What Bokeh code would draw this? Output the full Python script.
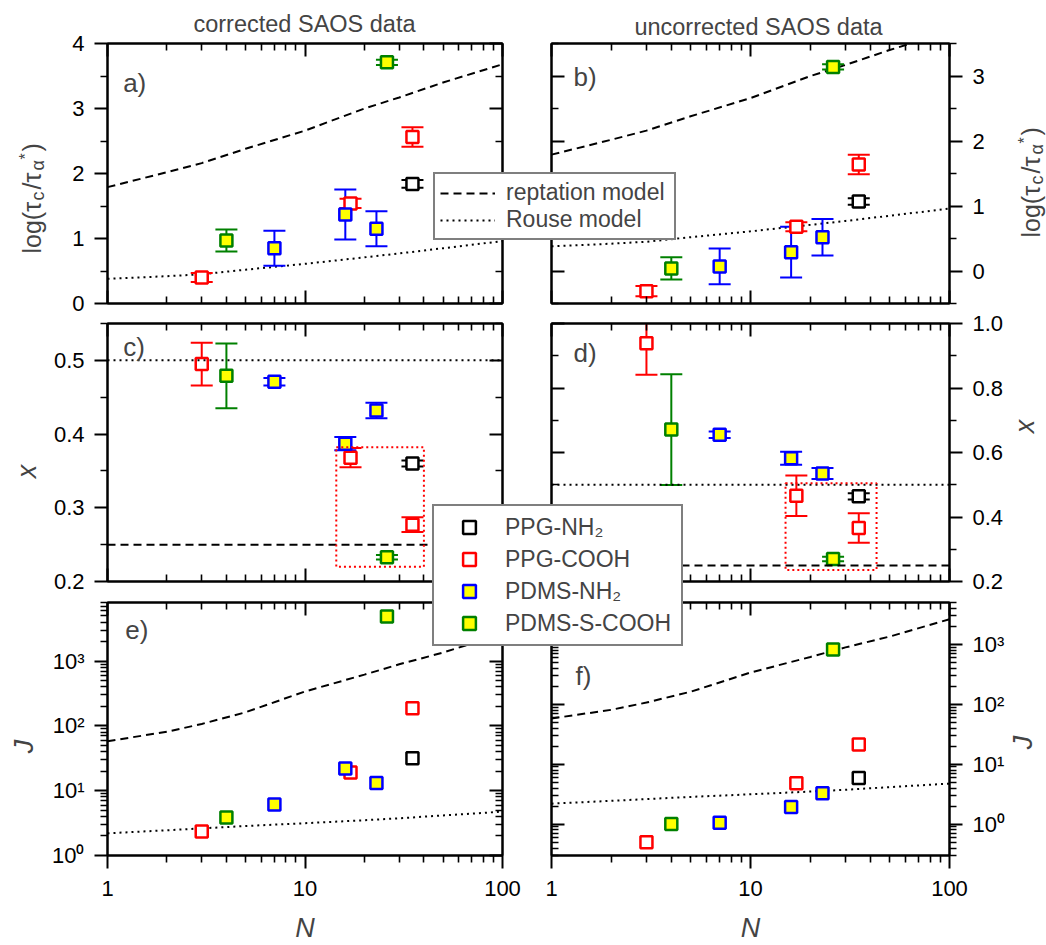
import math
from bokeh.plotting import figure
from bokeh.models import (Range1d, LinearAxis, LogAxis, FixedTicker, Span, BoxAnnotation,
                          Label, Legend, LegendItem, PrintfTickFormatter)
from bokeh.layouts import column, row
from bokeh.embed import file_html
from bokeh.resources import INLINE

FONT = "Liberation Sans"

# ---------------- data ----------------
series_names = ["PPG-NH₂", "PPG-COOH", "PDMS-NH₂", "PDMS-S-COOH"]
N_ppg_nh2 = [35]
N_ppg_cooh = [3, 17, 35]
N_pdms_nh2 = [7, 16, 23]
N_pdms_cooh = [4, 26]

# a) log(tau_c/tau_alpha*) corrected
a_ppg_nh2, a_ppg_nh2_err = [1.84], [0.06]
a_ppg_cooh, a_ppg_cooh_err = [0.40, 1.54, 2.56], [0.07, 0.07, 0.15]
a_pdms_nh2, a_pdms_nh2_err = [0.85, 1.37, 1.15], [0.27, 0.385, 0.27]
a_pdms_cooh, a_pdms_cooh_err = [0.97, 3.71], [0.17, 0.04]
# b) uncorrected
b_ppg_nh2, b_ppg_nh2_err = [1.07], [0.05]
b_ppg_cooh, b_ppg_cooh_err = [-0.31, 0.68, 1.64], [0.08, 0.07, 0.15]
b_pdms_nh2, b_pdms_nh2_err = [0.07, 0.29, 0.52], [0.275, 0.39, 0.28]
b_pdms_cooh, b_pdms_cooh_err = [0.04, 3.14], [0.17, 0.04]
# c) x corrected
c_ppg_nh2, c_ppg_nh2_err = [0.360], [0.004]
c_ppg_cooh, c_ppg_cooh_err = [0.495, 0.368, 0.277], [0.029, 0.013, 0.010]
c_pdms_nh2, c_pdms_nh2_err = [0.471, 0.387, 0.432], [0.005, 0.009, 0.0105]
c_pdms_cooh, c_pdms_cooh_err = [0.479, 0.233], [0.044, 0.003]
# d) x uncorrected
d_ppg_nh2, d_ppg_nh2_err = [0.464], [0.010]
d_ppg_cooh, d_ppg_cooh_err = [0.939, 0.466, 0.366], [0.098, 0.063, 0.046]
d_pdms_nh2, d_pdms_nh2_err = [0.655, 0.582, 0.535], [0.010, 0.020, 0.017]
d_pdms_cooh, d_pdms_cooh_err = [0.671, 0.270], [0.172, 0.007]
# e) J corrected
e_ppg_nh2 = [31.6]
e_ppg_cooh = [2.35, 19.1, 187]
e_pdms_nh2 = [6.1, 22.0, 13.1]
e_pdms_cooh = [3.85, 4850]
# f) J uncorrected
f_ppg_nh2 = [5.9]
f_ppg_cooh = [0.50, 4.8, 21.3]
f_pdms_nh2 = [1.06, 1.94, 3.28]
f_pdms_cooh = [1.01, 820]

# model curves
N_model = [1, 2, 3, 5, 10, 20, 30, 50, 100]
logtau_reptation = [1.79, 2.02, 2.16, 2.38, 2.66, 3.00, 3.17, 3.40, 3.68]
logtau_rouse = [0.38, 0.42, 0.45, 0.52, 0.61, 0.71, 0.77, 0.85, 0.96]
J_reptation = [58, 81, 107, 162, 339, 617, 891, 1350, 2630]
J_rouse = [2.2, 2.45, 2.62, 2.85, 3.15, 3.5, 3.75, 4.15, 4.75]
x_reptation = 0.25
x_rouse = 0.5
# dotted red boxes (N_left, N_right, x_bottom, x_top)
box_c = [14.4, 40, 0.22, 0.382]
box_d = [15, 43, 0.236, 0.505]

# ticks
x_ticks = [1, 10, 100]
x_minor = [2, 3, 4, 5, 6, 7, 8, 9, 20, 30, 40, 50, 60, 70, 80, 90]
x_tick_labels = {1: "1", 10: "10", 100: "100"}
a_ticks, a_minor = [0, 1, 2, 3, 4], [0.5, 1.5, 2.5, 3.5]
b_ticks, b_minor = [0, 1, 2, 3], [-0.5, 0.5, 1.5, 2.5, 3.5]
c_ticks, c_minor = [0.2, 0.3, 0.4, 0.5], [0.25, 0.35, 0.45, 0.55]
d_ticks, d_minor = [0.2, 0.4, 0.6, 0.8, 1.0], [0.3, 0.5, 0.7, 0.9]
J_ticks = [1, 10, 100, 1000]
J_minor = [0.3, 0.4, 0.5, 0.6, 0.7, 0.8, 0.9] + [m * 10 ** k for k in range(4) for m in range(2, 10)]
J_tick_labels = {1: "10⁰", 10: "10¹", 100: "10²", 1000: "10³"}

COLORS = ["#000000", "#ff0000", "#0000ff", "#008000"]
FILLS = ["#ffffff", "#ffffff", "#ffff00", "#ffff00"]
N_series = [N_ppg_nh2, N_ppg_cooh, N_pdms_nh2, N_pdms_cooh]

# layout geometry (pixels)
WIDTH = {"left": 526, "right": 520}
BORDERS = {  # (top, bottom) for each row, per column
    "left": [(43, 14), (6, 13), (8, 85)],
    "right": [(43, 6), (14, 13), (8, 85)],
}
FRAME_H = [260, 258, 258]


def style_axis(ax, labeled, ticks, minor, overrides=None, fmt=None, standoff=10):
    ax.ticker = FixedTicker(ticks=ticks, minor_ticks=minor)
    ax.axis_line_width = 2
    ax.major_tick_line_width = 2
    ax.minor_tick_line_width = 1.6
    if labeled:
        ax.major_tick_out, ax.major_tick_in = 13, 0
        ax.minor_tick_out, ax.minor_tick_in = 7, 0
        ax.major_label_text_font = FONT
        ax.major_label_text_font_size = "22px"
        ax.major_label_text_color = "black"
        ax.major_label_standoff = standoff
        if fmt is not None:
            ax.formatter = fmt
        if overrides:
            ax.major_label_overrides = overrides
    else:
        ax.major_tick_out, ax.major_tick_in = 0, 13
        ax.minor_tick_out, ax.minor_tick_in = 0, 7
        ax.major_label_text_font_size = "1px"
        ax.major_label_text_color = None
        ax.major_label_standoff = 0


def make_fig(side, r, y_type, yr, yticks, yminor, yover=None, yfmt=None):
    left = side == "left"
    bt, bb = BORDERS[side][r]
    p = figure(width=WIDTH[side], height=bt + FRAME_H[r] + bb, x_axis_type="log", y_axis_type=y_type,
               x_range=Range1d(1, 100), y_range=yr,
               y_axis_location="left" if left else "right",
               output_backend="svg", toolbar_location=None,
               min_border_left=107 if left else 25, min_border_right=24 if left else 97,
               min_border_top=bt, min_border_bottom=bb)
    p.xgrid.visible = False
    p.ygrid.visible = False
    p.outline_line_color = "black"
    p.outline_line_width = 2
    p.background_fill_color = "white"
    p.border_fill_color = "white"
    xax = p.below[0]
    yax = p.left[0] if left else p.right[0]
    style_axis(xax, r == 2, x_ticks, x_minor, x_tick_labels, standoff=12)
    style_axis(yax, True, yticks, yminor, yover, yfmt, standoff=10)
    top = LogAxis()
    style_axis(top, False, x_ticks, x_minor)
    p.add_layout(top, "above")
    mir = LogAxis() if y_type == "log" else LinearAxis()
    style_axis(mir, False, yticks, yminor)
    p.add_layout(mir, "right" if left else "left")
    if r == 2:
        xax.axis_label = "N"
        xax.axis_label_text_font = FONT
        xax.axis_label_text_font_size = "27px"
        xax.axis_label_text_font_style = "italic"
        xax.axis_label_standoff = 14
    return p


def add_series(p, ys_list, errs_list):
    for i in range(4):
        N = N_series[i]
        ys = ys_list[i]
        if errs_list is not None:
            errs = errs_list[i]
            lo = [y - e for y, e in zip(ys, errs)]
            hi = [y + e for y, e in zip(ys, errs)]
            p.segment(x0=N, y0=lo, x1=N, y1=hi, line_color=COLORS[i], line_width=2)
            p.scatter(x=N, y=lo, marker="dash", size=22, line_color=COLORS[i], line_width=2)
            p.scatter(x=N, y=hi, marker="dash", size=22, line_color=COLORS[i], line_width=2)
    for i in range(4):
        p.scatter(x=N_series[i], y=ys_list[i], marker="square", size=12,
                  line_color=COLORS[i], fill_color=FILLS[i], line_width=2.5)


def letter(p, text, x, y):
    p.add_layout(Label(x=x, y=y, text=text, text_font=FONT, text_font_size="26px",
                       text_baseline="middle", text_align="left"))


def model_lines(p, ydash, ydot):
    p.line(N_model, ydash, line_color="black", line_width=2, line_dash="8 5")
    p.line(N_model, ydot, line_color="black", line_width=2, line_dash="2 4")


def guide_lines(p, box):
    p.add_layout(Span(location=x_rouse, dimension="width", line_color="black", line_width=2, line_dash="2 4"))
    p.add_layout(Span(location=x_reptation, dimension="width", line_color="black", line_width=2, line_dash="8 5"))
    p.add_layout(BoxAnnotation(left=box[0], right=box[1], bottom=box[2], top=box[3],
                               fill_alpha=0, line_alpha=1, line_color="#ff0000",
                               line_width=2, line_dash="2 3"))


# ---------------- panels ----------------
pa = make_fig("left", 0, "linear", Range1d(0, 4), a_ticks, a_minor, yfmt=PrintfTickFormatter(format="%d"))
model_lines(pa, logtau_reptation, logtau_rouse)
add_series(pa, [a_ppg_nh2, a_ppg_cooh, a_pdms_nh2, a_pdms_cooh],
           [a_ppg_nh2_err, a_ppg_cooh_err, a_pdms_nh2_err, a_pdms_cooh_err])
letter(pa, "a)", 1.2, 3.4)

pb = make_fig("right", 0, "linear", Range1d(-0.5, 3.5), b_ticks, b_minor, yfmt=PrintfTickFormatter(format="%d"))
model_lines(pb, logtau_reptation, logtau_rouse)
add_series(pb, [b_ppg_nh2, b_ppg_cooh, b_pdms_nh2, b_pdms_cooh],
           [b_ppg_nh2_err, b_ppg_cooh_err, b_pdms_nh2_err, b_pdms_cooh_err])
letter(pb, "b)", 1.29, 2.98)

pc = make_fig("left", 1, "linear", Range1d(0.2, 0.55), c_ticks, c_minor, yfmt=PrintfTickFormatter(format="%.1f"))
guide_lines(pc, box_c)
add_series(pc, [c_ppg_nh2, c_ppg_cooh, c_pdms_nh2, c_pdms_cooh],
           [c_ppg_nh2_err, c_ppg_cooh_err, c_pdms_nh2_err, c_pdms_cooh_err])
letter(pc, "c)", 1.2, 0.5175)

pd_ = make_fig("right", 1, "linear", Range1d(0.2, 1.0), d_ticks, d_minor, yfmt=PrintfTickFormatter(format="%.1f"))
guide_lines(pd_, box_d)
add_series(pd_, [d_ppg_nh2, d_ppg_cooh, d_pdms_nh2, d_pdms_cooh],
           [d_ppg_nh2_err, d_ppg_cooh_err, d_pdms_nh2_err, d_pdms_cooh_err])
letter(pd_, "d)", 1.29, 0.907)

pe = make_fig("left", 2, "log", Range1d(1, 8000), J_ticks, J_minor, yover=J_tick_labels)
model_lines(pe, J_reptation, J_rouse)
add_series(pe, [e_ppg_nh2, e_ppg_cooh, e_pdms_nh2, e_pdms_cooh], None)
letter(pe, "e)", 1.23, 3020)

pf = make_fig("right", 2, "log", Range1d(0.3, 5000), J_ticks, J_minor, yover=J_tick_labels)
model_lines(pf, J_reptation, J_rouse)
add_series(pf, [f_ppg_nh2, f_ppg_cooh, f_pdms_nh2, f_pdms_cooh], None)
letter(pf, "f)", 1.32, 297)


# ---------------- transparent overlays (page-pixel coordinates) ----------------
def overlay(w, h, left, top, z):
    f = figure(width=w, height=h, x_range=Range1d(0, w), y_range=Range1d(h, 0),
               x_axis_location=None, y_axis_location=None, output_backend="svg",
               toolbar_location=None, min_border=0, min_border_left=0, min_border_right=0,
               min_border_top=0, min_border_bottom=0)
    f.grid.visible = False
    f.background_fill_color = None
    f.border_fill_color = None
    f.outline_line_color = None
    f.styles = {"position": "absolute", "left": f"{left}px", "top": f"{top}px", "z-index": str(z)}
    return f


txt = overlay(1046, 945, 0, 0, 5)


def page_text(text, x, y, size, angle=0.0, align="center", baseline="middle", style="normal"):
    txt.add_layout(Label(x=x, y=y, text=text, text_font=FONT, text_font_size=f"{size}px",
                         angle=angle, text_align=align, text_baseline=baseline,
                         text_font_style=style))


# column titles
page_text("corrected SAOS data", 304, 23, 23.5)
page_text("uncorrected SAOS data", 758, 26, 23.5)

# y-axis titles of panels c-f
page_text("x", 26, 471, 27, angle=math.pi / 2, style="italic")
page_text("J", 23, 746, 27, angle=math.pi / 2, style="italic")
page_text("x", 1024, 426, 27, angle=math.pi / 2, style="italic")
page_text("J", 1022, 742, 27, angle=math.pi / 2, style="italic")


def tau_title(x_base, y_start):
    # log(τ_c/τ_α*) written upwards, pieces with sub/superscript offsets
    pieces = [("log(τ", 25, 0, 53), ("c", 18, 6, 11), ("/τ", 25, 0, 19),
              ("α", 18, 6, 11), ("*", 16, -6, 8), (")", 25, 0, 9)]
    adv = 0
    for text, size, shift, w in pieces:
        page_text(text, x_base + shift, y_start - adv, size, angle=math.pi / 2,
                  align="left", baseline="alphabetic")
        adv += w


tau_title(31, 253)
tau_title(1030, 237)


# ---------------- overlay legends ----------------
def style_legend(lg):
    lg.location = "top_left"
    lg.margin = 0
    lg.padding = 5
    lg.spacing = 0
    lg.border_line_color = "black"
    lg.border_line_width = 2
    lg.background_fill_color = "white"
    lg.background_fill_alpha = 1
    lg.label_text_font = FONT
    lg.label_text_font_size = "23px"


HIDDEN = [-10.0]  # off-canvas anchor so legend glyph renderers draw nothing visible

l1 = overlay(250, 70, 433, 172, 10)
r_rep = l1.line(HIDDEN, HIDDEN, line_color="black", line_width=2, line_dash="8 5")
r_rou = l1.line(HIDDEN, HIDDEN, line_color="black", line_width=2, line_dash="2 4")
leg1 = Legend(items=[LegendItem(label="reptation model", renderers=[r_rep]),
                     LegendItem(label="Rouse model", renderers=[r_rou])])
style_legend(leg1)
leg1.glyph_width = 55
leg1.label_standoff = 11
leg1.label_width = 163
leg1.label_height = 22
l1.add_layout(leg1, "center")

l2 = overlay(260, 150, 432, 504, 10)
items = []
for i in range(4):
    r = l2.scatter(HIDDEN, HIDDEN, marker="square", size=12, line_color=COLORS[i], fill_color=FILLS[i], line_width=2.5)
    items.append(LegendItem(label=series_names[i], renderers=[r]))
leg2 = Legend(items=items)
style_legend(leg2)
leg2.glyph_width = 60
leg2.label_standoff = 6
leg2.label_width = 171
leg2.label_height = 32
leg2.glyph_height = 32
l2.add_layout(leg2, "center")

grid = row(column(pa, pc, pe), column(pb, pd_, pf))
layout = column(grid, txt, l1, l2)
open("out.html", "w").write(file_html(layout, INLINE))
